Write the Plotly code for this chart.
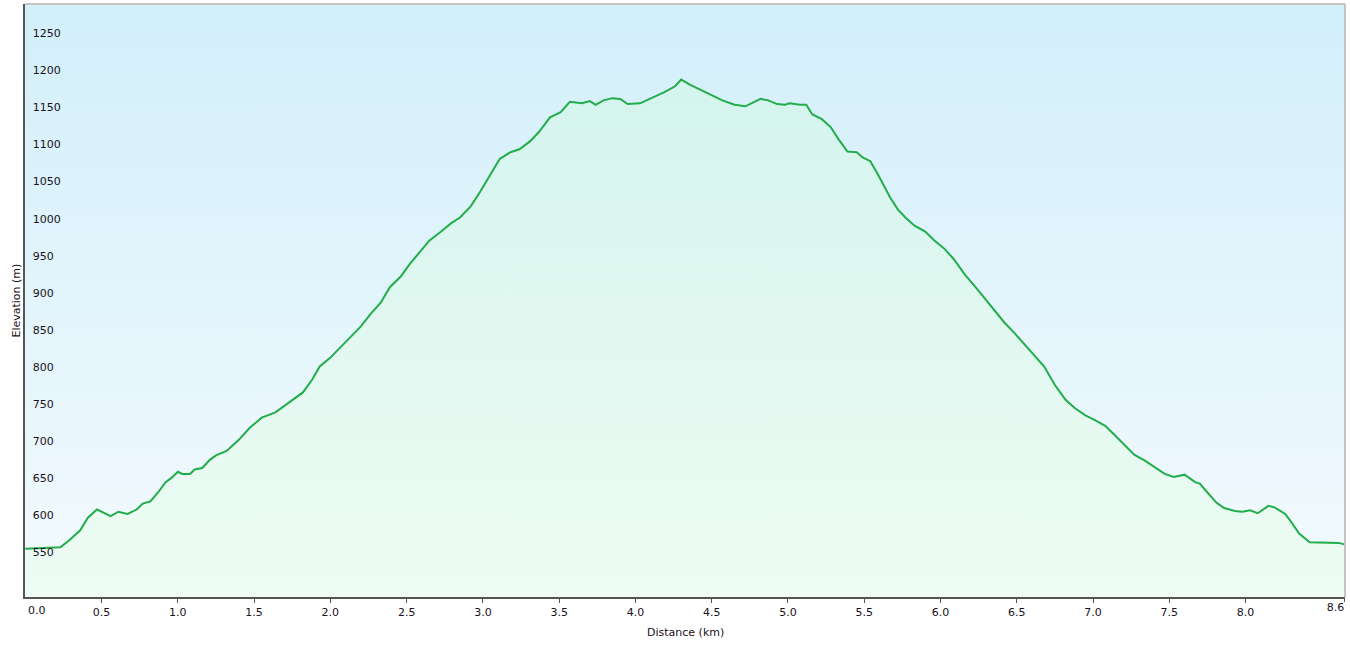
import plotly.graph_objects as go

# distance along the track (km) and elevation (m)
distance_km = [
    0.00, 0.23, 0.29, 0.36, 0.41, 0.47, 0.56, 0.61, 0.67, 0.73, 0.77, 0.82,
    0.87, 0.92, 0.96, 1.00, 1.03, 1.08, 1.11, 1.16, 1.21, 1.25, 1.32, 1.40,
    1.47, 1.55, 1.64, 1.68, 1.75, 1.82, 1.88, 1.93, 2.00, 2.06, 2.13, 2.20,
    2.26, 2.33, 2.39, 2.46, 2.52, 2.59, 2.65, 2.72, 2.79, 2.85, 2.92, 2.98,
    3.05, 3.11, 3.18, 3.24, 3.31, 3.37, 3.44, 3.51, 3.57, 3.65, 3.70, 3.74,
    3.79, 3.85, 3.90, 3.95, 4.03, 4.11, 4.19, 4.26, 4.30, 4.36, 4.42, 4.49,
    4.57, 4.65, 4.72, 4.76, 4.82, 4.87, 4.93, 4.98, 5.01, 5.08, 5.12, 5.16,
    5.22, 5.28, 5.33, 5.39, 5.45, 5.49, 5.54, 5.59, 5.67, 5.72, 5.77, 5.83,
    5.90, 5.96, 6.03, 6.09, 6.16, 6.23, 6.29, 6.36, 6.42, 6.49, 6.55, 6.62,
    6.68, 6.75, 6.82, 6.88, 6.95, 7.01, 7.08, 7.14, 7.21, 7.27, 7.34, 7.40,
    7.47, 7.53, 7.60, 7.67, 7.70, 7.75, 7.81, 7.86, 7.93, 7.98, 8.03, 8.08,
    8.15, 8.19, 8.26, 8.30, 8.35, 8.42, 8.48, 8.55, 8.61, 8.65,
]
elevation_m = [
    565, 567, 577, 590, 607, 618, 609, 615, 612, 618, 626, 629,
    641, 655, 661, 669, 666, 666, 672, 674, 685, 691, 697, 712,
    728, 742, 749, 755, 765, 776, 793, 811, 823, 836, 851, 865,
    881, 897, 918, 932, 949, 966, 981, 992, 1004, 1012, 1027, 1046,
    1070, 1091, 1100, 1104, 1115, 1128, 1147, 1154, 1168, 1166, 1169, 1164,
    1170, 1173, 1172, 1165, 1166, 1173, 1181, 1189, 1198, 1191, 1185, 1178,
    1170, 1164, 1162, 1166, 1172, 1170, 1165, 1164, 1166, 1164, 1164, 1151,
    1145, 1134, 1118, 1101, 1100, 1093, 1088, 1070, 1039, 1023, 1012, 1001,
    993, 981, 969, 955, 935, 918, 903, 885, 870, 855, 841, 826,
    811, 786, 766, 755, 745, 739, 731, 719, 704, 692, 684, 676,
    666, 662, 665, 655, 653, 641, 627, 620, 616, 615, 617, 613,
    623, 621, 612, 601, 586, 574, 574, 573, 573, 571,
]

# inner ticks are centred; the two end labels sit just inside the plot
x_tick_vals = [0.5, 1.0, 1.5, 2.0, 2.5, 3.0, 3.5, 4.0, 4.5, 5.0, 5.5,
               6.0, 6.5, 7.0, 7.5, 8.0]
x_tick_text = ["0.5", "1.0", "1.5", "2.0", "2.5", "3.0", "3.5", "4.0",
               "4.5", "5.0", "5.5", "6.0", "6.5", "7.0", "7.5", "8.0"]
x_start_tick = 0.0
x_start_text = "0.0"
x_end_tick = 8.65
x_end_text = "8.6"
y_tick_vals = [550, 600, 650, 700, 750, 800, 850, 900, 950, 1000, 1050,
               1100, 1150, 1200, 1250]

x_range = [-0.002, 8.652]
y_range = [500, 1300]

fig = go.Figure()

# sky-ish gradient behind the profile
fig.add_trace(go.Scatter(
    x=x_range, y=[y_range[1], y_range[1]],
    mode="lines", line=dict(width=0), fill="tozeroy",
    fillgradient=dict(type="vertical", start=y_range[0], stop=y_range[1],
                      colorscale=[[0, "#f3fafe"], [1, "#d2effa"]]),
    hoverinfo="skip", showlegend=False,
))

# elevation profile
fig.add_trace(go.Scatter(
    x=distance_km, y=elevation_m,
    mode="lines", line=dict(color="#22ad4b", width=2),
    fill="tozeroy",
    fillgradient=dict(type="vertical", start=y_range[0], stop=1200,
                      colorscale=[[0, "#eefcf3"], [1, "#d4f4ee"]]),
    showlegend=False,
))

# empty trace so the end-label axis gets drawn
fig.add_trace(go.Scatter(x=[], y=[], xaxis="x2", yaxis="y",
                         hoverinfo="skip", showlegend=False))

tick_font = dict(family="DejaVu Sans", size=11, color="#1a1020")

fig.update_layout(
    width=1350, height=646,
    margin=dict(l=25, r=5, t=4, b=49),
    paper_bgcolor="#ffffff",
    plot_bgcolor="#ffffff",
    font=tick_font,
    xaxis=dict(
        range=x_range, tickvals=x_tick_vals, ticktext=x_tick_text,
        showgrid=False, zeroline=False, automargin=False,
        showline=True, linecolor="#555555", linewidth=2,
        ticks="outside", ticklen=4, tickcolor="#555555",
        tickfont=tick_font,
    ),
    xaxis2=dict(
        overlaying="x", anchor="free", position=0, side="bottom",
        range=x_range, tickvals=[x_end_tick], ticktext=[x_end_text],
        ticklabelposition="outside left", ticklabeloverflow="allow",
        showgrid=False, zeroline=False, showline=False, automargin=False,
        ticks="outside", ticklen=4, tickcolor="#555555", tickfont=tick_font,
    ),
    yaxis=dict(
        range=y_range, tickvals=y_tick_vals,
        showgrid=True, gridcolor="#b6c6cb", gridwidth=1.5,
        zeroline=False, automargin=False,
        showline=True, linecolor="#555555", linewidth=2,
        ticks="", ticklabelposition="inside top", ticklabelstandoff=6,
        tickfont=tick_font,
    ),
    annotations=[
        # plotly drops the tick label sitting on the y axis, so place it here
        dict(text=x_start_text, xref="x", yref="paper", x=x_start_tick, y=0,
             xanchor="left", yanchor="top", yshift=-5, xshift=1,
             showarrow=False, font=tick_font),
        dict(text="Distance (km)", xref="paper", yref="paper", x=0.5, y=-0.045,
             xanchor="center", yanchor="top", showarrow=False, font=tick_font),
        dict(text="Elevation (m)", xref="paper", yref="paper", x=-0.0068, y=0.5,
             xanchor="center", yanchor="middle", textangle=-90,
             showarrow=False, font=tick_font),
    ],
    shapes=[
        dict(type="line", xref="paper", yref="paper", x0=0, x1=1, y0=1, y1=1,
             line=dict(color="#c4c4c4", width=2), layer="above"),
        dict(type="line", xref="paper", yref="paper", x0=1, x1=1, y0=0, y1=1,
             line=dict(color="#c4c4c4", width=2), layer="above"),
    ],
)

# the page's default body margin would push the chart 8px off the corner
fig.write_html("out.html", config={"displayModeBar": False},
               post_script="document.body.style.margin = '0';")
